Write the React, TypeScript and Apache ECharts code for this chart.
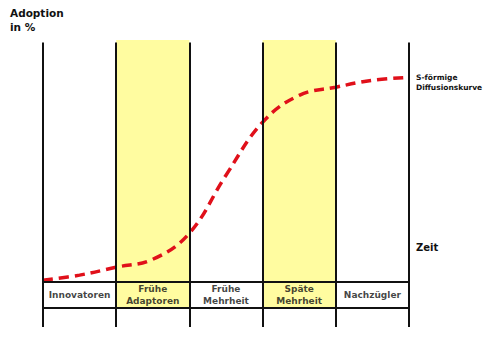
import React, { useEffect, useRef } from "react";
import * as echarts from "echarts";

// Phase boundaries (x in phase units) and phase names
const phaseBounds = [0, 1, 2, 3, 4, 5];
const phaseNames = ["Innovatoren", "Frühe\nAdaptoren", "Frühe\nMehrheit", "Späte\nMehrheit", "Nachzügler"];
const highlightedPhases = [1, 3];

// S-curve (adoption in %)
const curveX = [0, 0.5, 1, 1.5, 2, 2.5, 3, 3.5, 4, 4.5, 5];
const curveY = [0.8, 2.9, 6.2, 9.5, 20.4, 44.6, 66.7, 77.9, 81.3, 84.2, 85.4];

const Y_MIN = -18.75;
const Y_MAX = 101;
const ROW_BOTTOM = -10.83;
const FONT = "DejaVu Sans";

export default function App() {
  const ref = useRef<HTMLDivElement>(null);
  useEffect(() => {
    const chart = echarts.init(ref.current!, undefined, { renderer: "svg" });
    const vLines = phaseBounds.map((x) => [{ coord: [x, Y_MIN] }, { coord: [x, 100] }]);
    const hLines = [0, ROW_BOTTOM].map((y) => [{ coord: [0, y] }, { coord: [5, y] }]);
    chart.setOption({
      animation: false,
      grid: { left: 43, right: 91, top: 40, bottom: 29 },
      xAxis: { type: "value", min: 0, max: 5, show: false },
      yAxis: { type: "value", min: Y_MIN, max: Y_MAX, show: false },
      graphic: [
        {
          type: "text",
          left: 10,
          top: 6,
          style: { text: "Adoption\nin %", font: `bold 10.5px ${FONT}`, fill: "#111", lineHeight: 14 },
        },
        {
          type: "text",
          left: 416,
          top: 242,
          style: { text: "Zeit", font: `bold 10px ${FONT}`, fill: "#111" },
        },
        {
          type: "text",
          left: 416,
          top: 72,
          style: { text: "S-förmige\nDiffusionskurve", font: `bold 7.5px ${FONT}`, fill: "#111", lineHeight: 10 },
        },
      ],
      series: [
        {
          type: "line",
          data: [],
          z: 1,
          clip: false,
          markArea: {
            silent: true,
            itemStyle: { color: "#fffca0" },
            data: highlightedPhases.map((p) => [
              { coord: [phaseBounds[p], ROW_BOTTOM] },
              { coord: [phaseBounds[p + 1], Y_MAX] },
            ]),
          },
        },
        {
          type: "line",
          data: [],
          z: 2,
          clip: false,
          markLine: {
            silent: true,
            symbol: "none",
            label: { show: false },
            lineStyle: { color: "#111", width: 2, type: "solid" },
            data: [...vLines, ...hLines],
          },
        },
        {
          type: "line",
          z: 3,
          smooth: 0.4,
          symbol: "none",
          lineStyle: { color: "#e0101a", width: 3.5, type: [10, 6] },
          data: curveX.map((x, i) => [x, curveY[i]]),
        },
        {
          type: "scatter",
          z: 4,
          symbolSize: 0,
          data: phaseNames.map((n, i) => [(phaseBounds[i] + phaseBounds[i + 1]) / 2, ROW_BOTTOM / 2]),
          label: {
            show: true,
            position: "inside",
            formatter: (p: any) => phaseNames[p.dataIndex],
            fontFamily: FONT,
            fontWeight: "bold",
            fontSize: 9,
            lineHeight: 12,
            color: "#111",
            align: "center",
          },
        },
      ],
    });
    return () => chart.dispose();
  }, []);
  return <div ref={ref} style={{ width: 500, height: 356, margin: -8 }} />;
}
